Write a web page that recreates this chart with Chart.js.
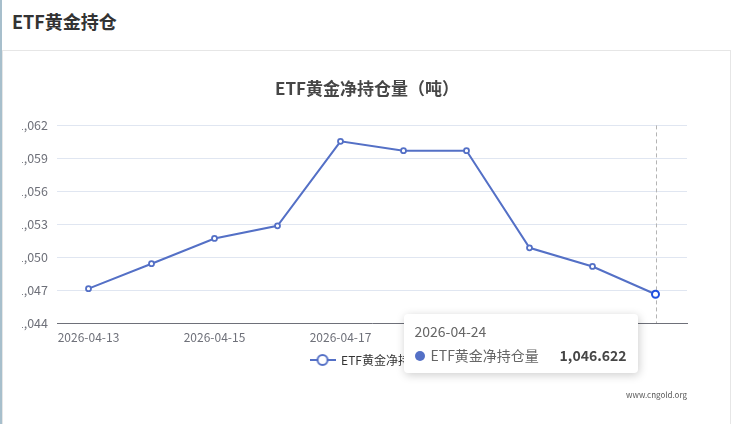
<!DOCTYPE html>
<html>
<head>
<meta charset="utf-8">
<title>ETF黄金持仓</title>
<script src="https://cdn.jsdelivr.net/npm/chart.js@4.4.1/dist/chart.umd.min.js"></script>
<style>
    html, body { margin: 0; padding: 0; background: #fff; width: 739px; height: 424px; overflow: hidden; font-family: "Noto Sans CJK SC", "Noto Sans", sans-serif; }
    .page { position: relative; width: 739px; height: 424px; border-left: 2px solid #a7bfcc; box-sizing: border-box; }
    .head { position: absolute; left: 10px; top: 8px; font-size: 18px; font-weight: bold; color: #333; }
    .box { position: absolute; left: 0; top: 50px; width: 729px; height: 400px; border: 1px solid #e6e6e6; box-sizing: border-box; }
    #chart-wrap { position: absolute; left: 20px; top: 51px; width: 690px; height: 373px; }
    #tip { position: absolute; display: none; width: 234px; box-sizing: border-box; padding: 7px 11px; background: #fff; border-radius: 4px;
           box-shadow: rgba(0,0,0,0.2) 1px 2px 10px; font-size: 14px; color: #666; }
    #tip .tt { line-height: 20px; margin-bottom: 4px; }
    #tip .row { line-height: 21px; white-space: nowrap; }
    #tip .dot { display: inline-block; width: 10px; height: 10px; border-radius: 5px; background: #5470c6; margin-right: 6px; vertical-align: 0; }
    #tip b { float: right; color: #464646; margin-left: 20px; }
</style>
</head>
<body>
<div class="page">
    <div class="head">ETF黄金持仓</div>
    <div class="box"></div>
    <div id="chart-wrap"><canvas id="etfChart"></canvas></div>
    <div id="tip"></div>
</div>
<script>
// trading days shown on the chart
const dates = ['2026-04-13', '2026-04-14', '2026-04-15', '2026-04-16', '2026-04-17',
               '2026-04-20', '2026-04-21', '2026-04-22', '2026-04-23', '2026-04-24'];
// net holdings, tonnes
const holdings = [1047.13, 1049.40, 1051.70, 1052.85, 1060.55, 1059.70, 1059.70, 1050.85, 1049.15, 1046.622];
const yTickValues = [1044, 1047, 1050, 1053, 1056, 1059, 1062];
const seriesName = 'ETF黄金净持仓量';

const BLUE = '#5470c6';
const AXIS = '#6e7079';
const FONT = '"Noto Sans CJK SC", "Noto Sans", sans-serif';
const WRAP_LEFT = 20, WRAP_TOP = 51;

// legend icon: line with hollow circle
const legendIcon = document.createElement('canvas');
legendIcon.width = 26; legendIcon.height = 14;
(function() {
    const c = legendIcon.getContext('2d');
    c.strokeStyle = BLUE; c.lineWidth = 2;
    c.beginPath(); c.moveTo(0, 7); c.lineTo(26, 7); c.stroke();
    c.fillStyle = '#fff';
    c.beginPath(); c.arc(13, 7, 5, 0, Math.PI * 2); c.fill(); c.stroke();
})();

// dashed axis pointer at the active point
const pointerLine = {
    id: 'pointerLine',
    beforeDatasetsDraw(chart) {
        const act = chart.getActiveElements();
        if (!act.length) return;
        const ctx = chart.ctx;
        const x = Math.round(act[0].element.x) + 0.5;
        ctx.save();
        ctx.strokeStyle = '#b4b4b4';
        ctx.lineWidth = 1;
        ctx.setLineDash([4, 3]);
        ctx.beginPath();
        ctx.moveTo(x, chart.chartArea.top);
        ctx.lineTo(x, chart.chartArea.bottom);
        ctx.stroke();
        ctx.restore();
    }
};

// keep the legend centred under the plot area rather than the canvas
const legendUnderPlot = {
    id: 'legendUnderPlot',
    afterLayout(chart) {
        const lg = chart.legend, ca = chart.chartArea;
        if (!lg) return;
        const shift = (ca.left + ca.right) / 2 - (lg.left + lg.right) / 2;
        lg.left += shift;
        lg.right += shift;
    }
};

// source text bottom right
const watermark = {
    id: 'watermark',
    afterDraw(chart) {
        const ctx = chart.ctx;
        ctx.save();
        ctx.font = '8px ' + FONT;
        ctx.fillStyle = '#555';
        ctx.textAlign = 'right';
        ctx.textBaseline = 'middle';
        ctx.fillText('www.cngold.org', chart.chartArea.right, chart.chartArea.bottom + 72);
        ctx.restore();
    }
};

function externalTip(context) {
    const tip = document.getElementById('tip');
    const t = context.tooltip;
    if (t.opacity === 0 || !t.dataPoints || !t.dataPoints.length) { tip.style.display = 'none'; return; }
    const dp = t.dataPoints[0];
    const val = dp.raw.toLocaleString('en-US', { maximumFractionDigits: 3 });
    tip.innerHTML = `<div class="tt">${dp.label}</div><div class="row"><span class="dot"></span>${dp.dataset.label}<b>${val}</b></div>`;
    tip.style.display = 'block';
    tip.style.left = (WRAP_LEFT + t.caretX - 252) + 'px';
    tip.style.top = (WRAP_TOP + t.caretY + 20) + 'px';
}

const ctx = document.getElementById('etfChart').getContext('2d');
const etfChart = new Chart(ctx, {
    type: 'line',
    data: {
        labels: dates,
        datasets: [{
            label: seriesName,
            data: holdings,
            borderColor: BLUE,
            backgroundColor: '#fff',
            borderWidth: 2,
            pointRadius: 2.5,
            pointBorderWidth: 1.8,
            pointBackgroundColor: '#fff',
            pointBorderColor: BLUE,
            pointHoverRadius: 3.5,
            pointHoverBorderWidth: 2,
            pointHoverBackgroundColor: '#fff',
            tension: 0,
            yAxisID: 'y'
        }]
    },
    options: {
        responsive: true,
        maintainAspectRatio: false,
        animation: false,
        events: [],
        layout: { padding: { top: 0, bottom: 48, left: 0, right: 0 } },
        scales: {
            x: {
                offset: true,
                grid: { display: false, drawTicks: false },
                border: { display: true, color: AXIS, width: 1 },
                ticks: {
                    autoSkip: false, maxRotation: 0, padding: 7, color: AXIS,
                    font: { family: FONT, size: 12 },
                    callback: function(v, i) { return i % 2 === 0 ? this.getLabelForValue(v) : ''; }
                },
                afterFit(scale) { scale.height = 21; }
            },
            y: {
                position: 'left',
                min: yTickValues[0],
                max: yTickValues[yTickValues.length - 1],
                afterBuildTicks(scale) { scale.ticks = yTickValues.map(v => ({ value: v })); },
                grid: { color: '#e0e6f1', drawTicks: false },
                border: { display: false },
                ticks: {
                    padding: 9, color: AXIS, font: { family: FONT, size: 12.5 },
                    callback: v => v.toLocaleString('en-US')
                },
                afterFit(scale) { scale.width = 35; }
            },
            yR: {
                position: 'right',
                display: true,
                grid: { display: false, drawTicks: false },
                border: { display: false },
                ticks: { display: false },
                afterFit(scale) { scale.width = 25; }
            }
        },
        plugins: {
            title: {
                display: true,
                text: 'ETF黄金净持仓量（吨）',
                color: '#464646',
                font: { family: FONT, size: 17, weight: 'bold' },
                padding: { top: 27, bottom: 27 }
            },
            legend: {
                position: 'bottom',
                labels: {
                    usePointStyle: true,
                    pointStyleWidth: 25,
                    boxHeight: 14,
                    padding: 10,
                    color: '#333',
                    font: { family: FONT, size: 12 },
                    generateLabels(chart) {
                        const items = Chart.defaults.plugins.legend.labels.generateLabels(chart);
                        items.forEach(it => { it.pointStyle = legendIcon; });
                        return items;
                    }
                }
            },
            tooltip: {
                enabled: false,
                external: externalTip
            }
        }
    },
    plugins: [pointerLine, legendUnderPlot, watermark]
});

// show the latest day as in the source page
const last = [{ datasetIndex: 0, index: holdings.length - 1 }];
etfChart.setActiveElements(last);
etfChart.tooltip.setActiveElements(last, { x: 0, y: 0 });
etfChart.update();
</script>
</body>
</html>
